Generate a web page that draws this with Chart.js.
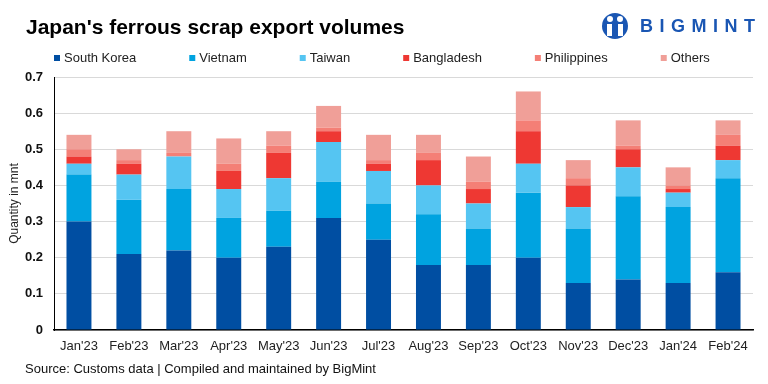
<!DOCTYPE html>
<html>
<head>
<meta charset="utf-8">
<script src="https://cdn.jsdelivr.net/npm/chart.js@4.4.1/dist/chart.umd.min.js"></script>
<style>
  html, body { margin: 0; padding: 0; background: #fff; }
  #wrap { width: 768px; height: 384px; position: relative; }
</style>
</head>
<body>
<div id="wrap"><canvas id="chart-exports"></canvas></div>
<script>
var months = ["Jan'23", "Feb'23", "Mar'23", "Apr'23", "May'23", "Jun'23", "Jul'23", "Aug'23", "Sep'23", "Oct'23", "Nov'23", "Dec'23", "Jan'24", "Feb'24"];

// quantity in mnt
var southKorea  = [0.30, 0.21, 0.22, 0.20, 0.23, 0.31, 0.25, 0.18, 0.18, 0.20, 0.13, 0.14, 0.13, 0.16];
var vietnam     = [0.13, 0.15, 0.17, 0.11, 0.10, 0.10, 0.10, 0.14, 0.10, 0.18, 0.15, 0.23, 0.21, 0.26];
var taiwan      = [0.03, 0.07, 0.09, 0.08, 0.09, 0.11, 0.09, 0.08, 0.07, 0.08, 0.06, 0.08, 0.04, 0.05];
var bangladesh  = [0.02, 0.03, 0.00, 0.05, 0.07, 0.03, 0.02, 0.07, 0.04, 0.09, 0.06, 0.05, 0.01, 0.04];
var philippines = [0.02, 0.01, 0.01, 0.02, 0.02, 0.01, 0.01, 0.02, 0.02, 0.03, 0.02, 0.01, 0.01, 0.03];
var others      = [0.04, 0.03, 0.06, 0.07, 0.04, 0.06, 0.07, 0.05, 0.07, 0.08, 0.05, 0.07, 0.05, 0.04];

var yTicks = [0, 0.1, 0.2, 0.3, 0.4, 0.5, 0.6, 0.7];

var fontFamily = "'Liberation Sans', Arial, sans-serif";

// title, legend, logo and source line
var decorations = {
  id: "decorations",
  afterDraw: function (chart) {
    var c = chart.ctx;
    c.save();

    c.fillStyle = "#000";
    c.font = "bold 21px " + fontFamily;
    c.textBaseline = "middle";
    c.textAlign = "left";
    c.fillText("Japan's ferrous scrap export volumes", 26, 28);

    // legend
    c.font = "13px " + fontFamily;
    var x = 54;
    chart.data.datasets.forEach(function (ds) {
      c.fillStyle = ds.backgroundColor;
      c.fillRect(x, 55, 6, 6);
      c.fillStyle = "#222";
      c.fillText(ds.label, x + 10, 58);
      x += 10 + c.measureText(ds.label).width + 53;
    });

    // source
    c.fillStyle = "#111";
    c.font = "13px " + fontFamily;
    c.fillText("Source: Customs data | Compiled and maintained by BigMint", 25, 369);

    // BigMint logo
    var blue = "#1a56b3";
    c.fillStyle = blue;
    c.beginPath();
    c.arc(615, 26, 13, 0, Math.PI * 2);
    c.fill();
    c.fillStyle = "#fff";
    c.beginPath();
    c.arc(610, 19, 3, 0, Math.PI * 2);
    c.arc(620, 19, 3, 0, Math.PI * 2);
    c.fill();
    c.fillRect(607, 24, 5, 12);
    c.fillRect(618, 24, 5, 12);
    c.fillStyle = blue;
    c.font = "bold 18px " + fontFamily;
    var letters = "BIGMINT";
    var lx = 640;
    for (var i = 0; i < letters.length; i++) {
      c.fillText(letters[i], lx, 27);
      lx += c.measureText(letters[i]).width + 6.5;
    }

    c.restore();
  },
};

var ctx = document.getElementById("chart-exports").getContext("2d");

function makeSet(label, data, color) {
  return {
    label: label,
    data: data,
    backgroundColor: color,
    borderWidth: 0,
    categoryPercentage: 1,
    barPercentage: 0.5,
  };
}

new Chart(ctx, {
  type: "bar",
  data: {
    labels: months,
    datasets: [
      makeSet("South Korea", southKorea, "#004ea2"),
      makeSet("Vietnam", vietnam, "#00a3e0"),
      makeSet("Taiwan", taiwan, "#55c5f2"),
      makeSet("Bangladesh", bangladesh, "#ee3833"),
      makeSet("Philippines", philippines, "#f47f76"),
      makeSet("Others", others, "#f09f98"),
    ],
  },
  options: {
    responsive: true,
    maintainAspectRatio: false,
    animation: false,
    layout: {
      padding: { top: 77, right: 15, bottom: 0, left: 0 },
    },
    plugins: {
      legend: { display: false },
      title: { display: false },
      tooltip: { enabled: false },
    },
    scales: {
      x: {
        stacked: true,
        afterFit: function (scale) {
          scale.height = 54;
        },
        grid: {
          display: false,
          drawTicks: false,
        },
        border: {
          display: true,
          color: "#000",
          width: 1.5,
        },
        ticks: {
          padding: 9,
          color: "#222",
          font: { size: 13, family: fontFamily },
          maxRotation: 0,
          autoSkip: false,
        },
      },
      y: {
        stacked: true,
        min: 0,
        max: 0.7,
        afterFit: function (scale) {
          scale.width = 54;
        },
        afterBuildTicks: function (scale) {
          scale.ticks = yTicks.map(function (v) {
            return { value: v };
          });
        },
        grid: {
          color: "#d9d9d9",
          lineWidth: 1,
          drawTicks: false,
        },
        border: {
          display: true,
          color: "#000",
          width: 1,
        },
        title: {
          display: true,
          text: "Quantity in mnt",
          color: "#222",
          padding: { top: 7, bottom: 0 },
          font: { size: 12, family: fontFamily },
        },
        ticks: {
          padding: 11,
          color: "#111",
          font: { size: 13, weight: "bold", family: fontFamily },
          callback: function (value) {
            return value === 0 ? "0" : value.toFixed(1);
          },
        },
      },
    },
  },
  plugins: [decorations],
});
</script>
</body>
</html>
